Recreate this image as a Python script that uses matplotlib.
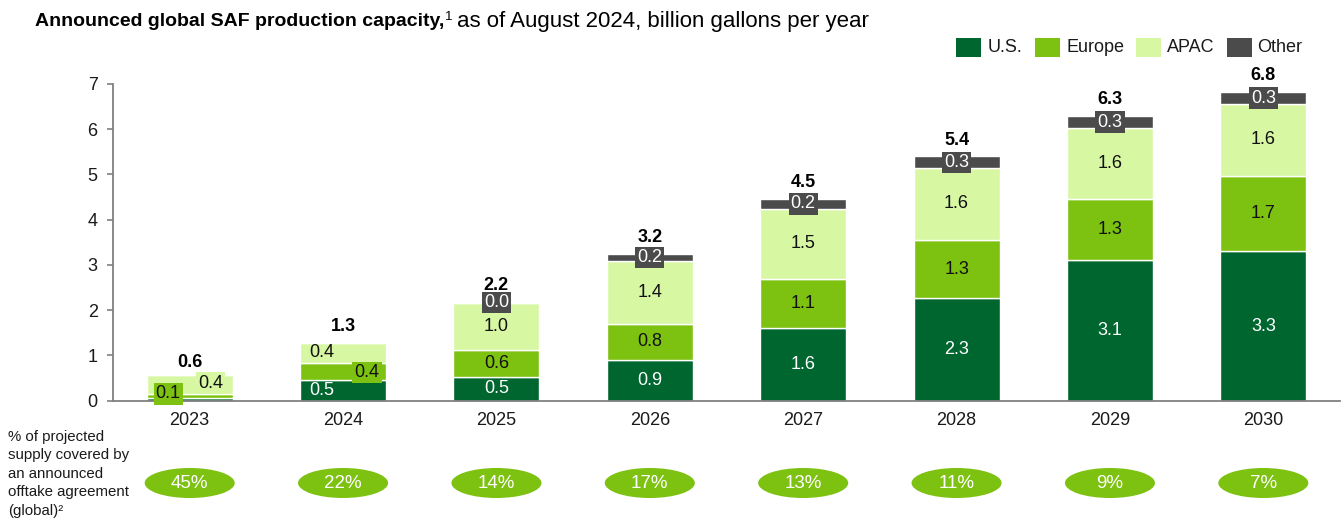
import matplotlib
matplotlib.use("Agg")
import matplotlib.pyplot as plt
from matplotlib.patches import Ellipse, Rectangle
import numpy as np

plt.rcParams['font.family'] = ['Liberation Sans', 'DejaVu Sans']

years = ["2023", "2024", "2025", "2026", "2027", "2028", "2029", "2030"]
us     = [0.05, 0.46, 0.52, 0.90, 1.60, 2.26, 3.12, 3.30]
europe = [0.10, 0.38, 0.60, 0.80, 1.10, 1.30, 1.33, 1.67]
apac   = [0.42, 0.43, 1.04, 1.38, 1.54, 1.58, 1.57, 1.59]
other  = [0.00, 0.00, 0.02, 0.16, 0.22, 0.26, 0.28, 0.26]
offtake_pct = [45, 22, 14, 17, 13, 11, 9, 7]
series_names = ["U.S.", "Europe", "APAC", "Other"]

C_US, C_EU, C_AP, C_OT = "#00662F", "#7DC111", "#D7F7A3", "#4B4B4B"
colors = [C_US, C_EU, C_AP, C_OT]

W, H = 1341, 521
fig = plt.figure(figsize=(W / 100, H / 100), dpi=100)

L, R = 113 / W, 1340 / W
B, T = 1 - 400.7 / H, 1 - 84 / H

# bottom overlay axes in pixel y coordinates
ax2 = fig.add_axes([L, 0, R - L, 1])
ax2.set_xlim(-0.5, 7.5)
ax2.set_ylim(H, 0)
ax2.axis('off')

ax = fig.add_axes([L, B, R - L, T - B])
ax.patch.set_alpha(0)
x = np.arange(len(years))
bw = 0.56
stack = [us, europe, apac, other]
bottoms = np.zeros(len(years))
for vals, c in zip(stack, colors):
    v = np.array(vals)
    ax.bar(x, v, bw, bottom=bottoms, color=c, edgecolor='white', linewidth=1.0, zorder=2)
    bottoms = bottoms + v
totals = bottoms

ax.set_xlim(-0.5, 7.5)
ax.set_ylim(0, 7)
ax.set_yticks(range(0, 8))
ax.set_xticks(x)
ax.set_xticklabels(years)
for s in ['top', 'right']:
    ax.spines[s].set_visible(False)
for s in ['left', 'bottom']:
    ax.spines[s].set_color('#808080')
    ax.spines[s].set_linewidth(1.3)
ax.tick_params(axis='y', length=4, width=1.2, color='#808080', labelsize=13, pad=7, labelcolor='#1a1a1a')
ax.tick_params(axis='x', length=0, labelsize=13, pad=8, labelcolor='#1a1a1a')

fs = 13
for i in range(len(years)):
    b0 = 0.0
    segs = []
    for k, vals in enumerate(stack):
        segs.append((b0, vals[i]))
        b0 += vals[i]
    # U.S.
    if us[i] >= 0.2:
        dx = -0.14 if i == 1 else 0
        ax.text(i + dx, segs[0][0] + segs[0][1] / 2, f"{us[i]:.1f}", ha='center', va='center',
                color='white', fontsize=fs, zorder=4)
    # Europe
    if i == 0:
        ax.text(i - 0.14, 0.15, f"{europe[i]:.1f}", ha='center', va='center', color='#111111', fontsize=fs,
                zorder=4, bbox=dict(boxstyle='square,pad=0.12', fc=C_EU, ec='none'))
    elif i == 1:
        ax.text(i + 0.155, segs[1][0] + segs[1][1] / 2 - 0.02, f"{europe[i]:.1f}", ha='center', va='center',
                color='#111111', fontsize=fs, zorder=4,
                bbox=dict(boxstyle='square,pad=0.12', fc=C_EU, ec='none'))
    else:
        ax.text(i, segs[1][0] + segs[1][1] / 2, f"{europe[i]:.1f}", ha='center', va='center',
                color='#111111', fontsize=fs, zorder=4)
    # APAC
    if i == 0:
        ax.text(i + 0.137, 0.39, f"{apac[i]:.1f}", ha='center', va='center', color='#111111', fontsize=fs,
                zorder=4, bbox=dict(boxstyle='square,pad=0.12', fc=C_AP, ec='none'))
    elif i == 1:
        ax.text(i - 0.14, segs[2][0] + segs[2][1] / 2, f"{apac[i]:.1f}", ha='center', va='center',
                color='#111111', fontsize=fs, zorder=4)
    else:
        ax.text(i, segs[2][0] + segs[2][1] / 2, f"{apac[i]:.1f}", ha='center', va='center',
                color='#111111', fontsize=fs, zorder=4)
    # Other
    if i >= 2:
        ax.text(i, segs[3][0] + segs[3][1] / 2, f"{other[i]:.1f}", ha='center', va='center',
                color='white', fontsize=fs, zorder=4,
                bbox=dict(boxstyle='square,pad=0.12', fc=C_OT, ec='none'))
    # totals
    ty = 0.85 if i == 0 else totals[i] + 0.36
    ax.text(i, ty, f"{totals[i]:.1f}", ha='center', va='center', color='black',
            fontsize=fs, fontweight='bold', zorder=4)

# offtake ellipses
for i, p in enumerate(offtake_pct):
    ax2.add_patch(Ellipse((i, 483), 0.587, 30, fc=C_EU, ec='none'))
    ax2.text(i, 484, f"{p}%", ha='center', va='center', color='white', fontsize=13.5)

fig.text(8 / W, 1 - 430 / H,
         "% of projected\nsupply covered by\nan announced\nofftake agreement\n(global)\u00b2",
         ha='left', va='top', fontsize=10.8, color='#1a1a1a', linespacing=1.4)

# legend
leg_items = [(956, 988), (1035, 1066), (1136, 1167), (1227, 1257)]
for (sx, tx), name, c in zip(leg_items, series_names, colors):
    fig.patches.append(Rectangle((sx / W, 1 - 57 / H), 25 / W, 19 / H, transform=fig.transFigure,
                                 fc=c, ec='none', figure=fig))
    fig.text(tx / W, 1 - 48 / H, name, ha='left', va='center', fontsize=13, color='#1a1a1a')

# title
fig.canvas.draw()
r = fig.canvas.get_renderer()
ty_t = 1 - 21 / H
t1 = fig.text(35 / W, ty_t, "Announced global SAF production capacity,", ha='left', va='center',
              fontsize=14, fontweight='bold', color='black')
bb = t1.get_window_extent(renderer=r)
t2 = fig.text(bb.x1 / W + 1 / W, ty_t + 4 / H, "1", ha='left', va='center', fontsize=9.5, color='black')
bb2 = t2.get_window_extent(renderer=r)
fig.text(bb2.x1 / W + 4 / W, ty_t, "as of August 2024, billion gallons per year", ha='left', va='center',
         fontsize=16, color='black')

fig.savefig("out.png", dpi=100)
